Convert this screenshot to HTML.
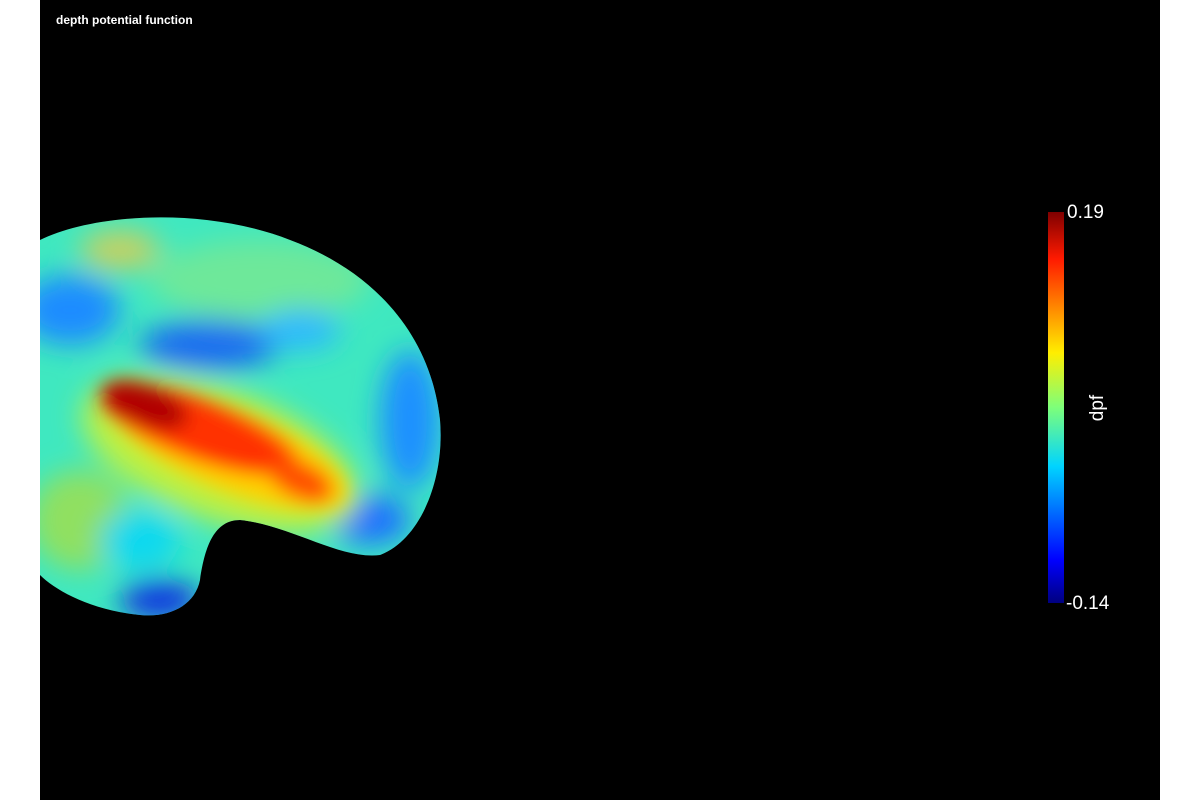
<!DOCTYPE html>
<html><head><meta charset="utf-8"><style>
html,body{margin:0;padding:0;background:#fff;}
#wrap{position:relative;width:1200px;height:800px;background:#fff;overflow:hidden;font-family:"Liberation Sans",sans-serif;}
#plot{position:absolute;left:40px;top:0;width:1120px;height:800px;background:#000;}
#title{position:absolute;left:56px;top:13px;color:#fff;font-size:12px;font-weight:bold;}
</style></head><body>
<div id="wrap">
<div id="plot"></div>
<div id="title">depth potential function</div>
<svg width="1200" height="800" style="position:absolute;left:0;top:0">
<defs>
<clipPath id="bc"><path d="M40,240 C90,215 200,205 290,240 C370,270 430,330 440,420 C445,480 420,540 380,555 C340,560 290,525 240,520 C215,520 205,545 200,580 C195,605 170,618 140,615 C90,610 55,590 40,575 Z"/></clipPath>
<filter id="bl" x="-50%" y="-50%" width="200%" height="200%"><feGaussianBlur stdDeviation="14"/></filter>
<filter id="bs" x="-50%" y="-50%" width="200%" height="200%"><feGaussianBlur stdDeviation="9"/></filter>
<linearGradient id="cb" x1="0" y1="1" x2="0" y2="0">
<stop offset="0" stop-color="#00007f"/><stop offset="0.11" stop-color="#0000ff"/><stop offset="0.35" stop-color="#00d4ff"/><stop offset="0.5" stop-color="#7dff7a"/><stop offset="0.64" stop-color="#ffee00"/><stop offset="0.88" stop-color="#ff1a00"/><stop offset="1" stop-color="#7f0000"/>
</linearGradient>
</defs>
<g clip-path="url(#bc)">
<rect x="30" y="200" width="430" height="430" fill="#3fe8c0"/>
<g filter="url(#bl)">
<ellipse cx="260" cy="280" rx="110" ry="40" fill="#6ee89a"/>
<ellipse cx="120" cy="250" rx="40" ry="20" fill="#c8d060"/>
<ellipse cx="70" cy="310" rx="50" ry="35" fill="#1a8cff"/>
<ellipse cx="210" cy="345" rx="70" ry="25" fill="#1a6cf0"/>
<ellipse cx="300" cy="330" rx="40" ry="20" fill="#2ab8ff"/>
<ellipse cx="410" cy="420" rx="30" ry="70" fill="#1a90ff"/>
<ellipse cx="370" cy="520" rx="40" ry="25" fill="#1a70ff"/>
<ellipse cx="160" cy="600" rx="40" ry="20" fill="#0a30e0"/>
<ellipse cx="80" cy="520" rx="50" ry="50" fill="#90e060"/>
<ellipse cx="140" cy="540" rx="40" ry="30" fill="#10d8f0"/>
<ellipse cx="220" cy="455" rx="145" ry="65" fill="#c0f040" transform="rotate(20 220 455)"/>
</g>
<g filter="url(#bs)">
<ellipse cx="230" cy="450" rx="125" ry="40" fill="#ffd000" transform="rotate(22 230 450)"/>
<ellipse cx="200" cy="430" rx="105" ry="30" fill="#ff3000" transform="rotate(20 200 430)"/>
<ellipse cx="145" cy="405" rx="45" ry="20" fill="#b00000" transform="rotate(20 145 405)"/>
<ellipse cx="300" cy="480" rx="35" ry="18" fill="#ff5000" transform="rotate(25 300 480)"/>
</g>
</g>
<rect x="1048" y="212" width="16" height="391" fill="url(#cb)"/>
<text x="1067" y="218" fill="#fff" font-size="19" font-family="Liberation Sans, sans-serif">0.19</text>
<text x="1066" y="609" fill="#fff" font-size="19" font-family="Liberation Sans, sans-serif">-0.14</text>
<text x="1103" y="408" fill="#fff" font-size="19" font-family="Liberation Sans, sans-serif" transform="rotate(-90 1103 408)" text-anchor="middle">dpf</text>
</svg>
</div>
</body></html>
